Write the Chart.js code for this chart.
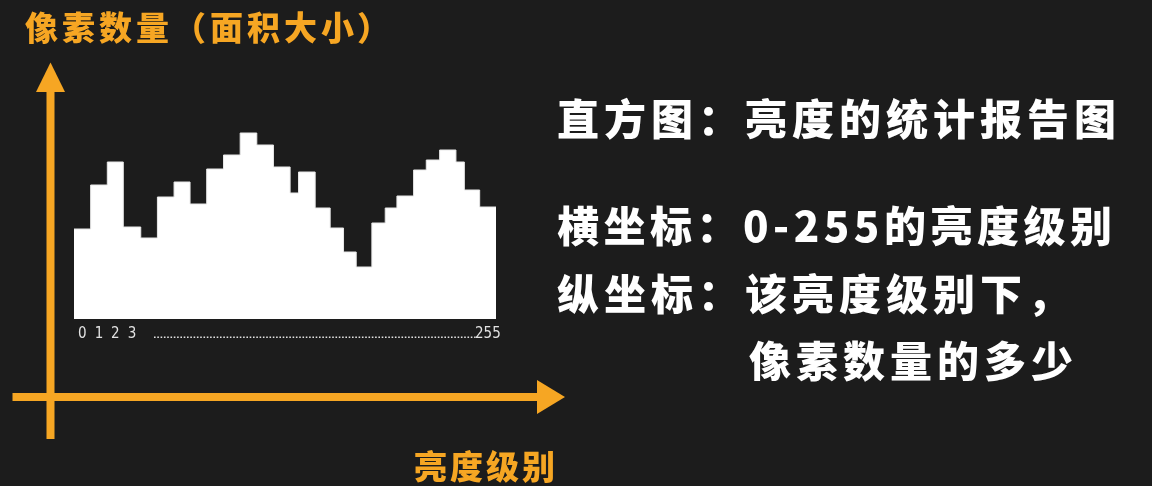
<!DOCTYPE html>
<html>
<head>
<meta charset="utf-8">
<script src="https://cdn.jsdelivr.net/npm/chart.js@4.4.1/dist/chart.umd.min.js"></script>
<style>
    html, body { margin: 0; padding: 0; background: #1c1c1c; }
    #chart { display: block; }
</style>
</head>
<body>
<canvas id="chart" width="1152" height="486"></canvas>
<script>
// brightness bin edges (0-256) and pixel count for each bin
const binEdges = [0, 10.1, 20.2, 29.9, 40.5, 50.6, 60.7, 70.4, 80.5, 90.7, 100.8, 110.9, 121.0, 131.1, 136.2, 146.3, 155.4, 163.5, 171.2, 180.7, 188.8, 195.9, 206.0, 213.7, 221.8, 231.7, 236.8, 246.1, 256];
const pixelCounts = [90, 134, 157, 92, 81, 122, 137, 115, 150, 164, 186, 174, 152, 126, 147, 111, 91, 67, 52, 96, 111, 123, 149, 159, 169, 157, 129, 112];
const firstTickLabels = ["0", "1", "2", "3"];
const lastTickLabel = "255";

const yTitle = "像素数量（面积大小）";
const xTitle = "亮度级别";
const notes = ["直方图：亮度的统计报告图", "横坐标：0-255的亮度级别", "纵坐标：该亮度级别下，", "像素数量的多少"];

const orange = "#f6a623";

const points = binEdges.map((edge, i) => ({
    x: edge,
    y: pixelCounts[Math.min(i, pixelCounts.length - 1)],
}));

function binCenter(i) {
    return (binEdges[i] + binEdges[i + 1]) / 2;
}

// full-width text on a fixed pitch; brackets go in their own cell and
// are placed by their ink, so it doesn't matter if chrome trims them
function drawCells(ctx, text, x, y, size, pitch) {
    const runs = text.split(/([（）])/).filter((s) => s.length);
    ctx.font = "900 " + size + "px 'Noto Sans CJK SC'";
    ctx.textAlign = "left";
    let cell = 0;
    runs.forEach((run) => {
        const left = x + cell * pitch;
        if (run === "（") {
            ctx.letterSpacing = "0px";
            const m = ctx.measureText(run);
            ctx.fillText(run, left + size - 1 - m.actualBoundingBoxRight, y);
        } else if (run === "）") {
            ctx.letterSpacing = "0px";
            const m = ctx.measureText(run);
            ctx.fillText(run, left + m.actualBoundingBoxLeft, y);
        } else {
            ctx.letterSpacing = pitch - size + "px";
            ctx.fillText(run, left, y);
        }
        cell += run.length;
    });
    ctx.letterSpacing = "0px";
}

const decor = {
    id: "decor",
    afterDraw(chart) {
        const ctx = chart.ctx;
        const xs = chart.scales.x;
        ctx.save();

        // axes arrows
        ctx.fillStyle = orange;
        ctx.fillRect(46.5, 90, 8, 349);
        ctx.beginPath();
        ctx.moveTo(50.5, 62.5);
        ctx.lineTo(65, 92);
        ctx.lineTo(36, 92);
        ctx.closePath();
        ctx.fill();

        ctx.fillRect(12.5, 393, 526, 8);
        ctx.beginPath();
        ctx.moveTo(565, 397);
        ctx.lineTo(537, 380);
        ctx.lineTo(537, 414);
        ctx.closePath();
        ctx.fill();

        // axis titles
        ctx.textBaseline = "middle";
        drawCells(ctx, yTitle, 25, 27, 33, 37);
        drawCells(ctx, xTitle, 414, 466, 33, 36);

        // tick labels under the histogram
        ctx.font = "15px 'DejaVu Sans Condensed', 'Open Sans'";
        ctx.fillStyle = "#e2e2e2";
        ctx.textAlign = "center";
        ctx.textBaseline = "alphabetic";
        firstTickLabels.forEach((label, i) => {
            ctx.fillText(label, xs.getPixelForValue(binCenter(i)), 338);
        });
        const lastX = xs.getPixelForValue(binCenter(pixelCounts.length - 1));
        ctx.fillText(lastTickLabel, lastX, 338);

        ctx.strokeStyle = "#e2e2e2";
        ctx.lineWidth = 1.6;
        ctx.setLineDash([1.6, 1.7]);
        ctx.beginPath();
        ctx.moveTo(154, 337.2);
        ctx.lineTo(lastX - 12, 337.2);
        ctx.stroke();
        ctx.setLineDash([]);

        // notes on the right
        ctx.font = "900 42px 'Noto Sans CJK SC'";
        ctx.fillStyle = "#ffffff";
        ctx.textAlign = "left";
        ctx.textBaseline = "middle";
        ctx.letterSpacing = "5px";
        ctx.fillText(notes[0], 557, 119);
        ctx.letterSpacing = "4.5px";
        ctx.fillText(notes[1], 557, 226);
        ctx.letterSpacing = "5px";
        ctx.fillText(notes[2], 557, 294);
        ctx.fillText(notes[3], 749, 361);

        ctx.restore();
    },
};

const ctx = document.getElementById("chart").getContext("2d");

new Chart(ctx, {
    type: "line",
    data: {
        datasets: [
            {
                data: points,
                stepped: true,
                fill: "origin",
                backgroundColor: "#ffffff",
                borderColor: "#e8e8e8",
                borderWidth: 1,
                pointRadius: 0,
            },
        ],
    },
    options: {
        responsive: false,
        animation: false,
        layout: {
            padding: { left: 74, right: 656, top: 119, bottom: 167 },
        },
        scales: {
            x: { type: "linear", min: 0, max: 256, display: false },
            y: { min: 0, max: 200, display: false },
        },
        plugins: {
            legend: { display: false },
            tooltip: { enabled: false },
        },
    },
    plugins: [decor],
});
</script>
</body>
</html>
